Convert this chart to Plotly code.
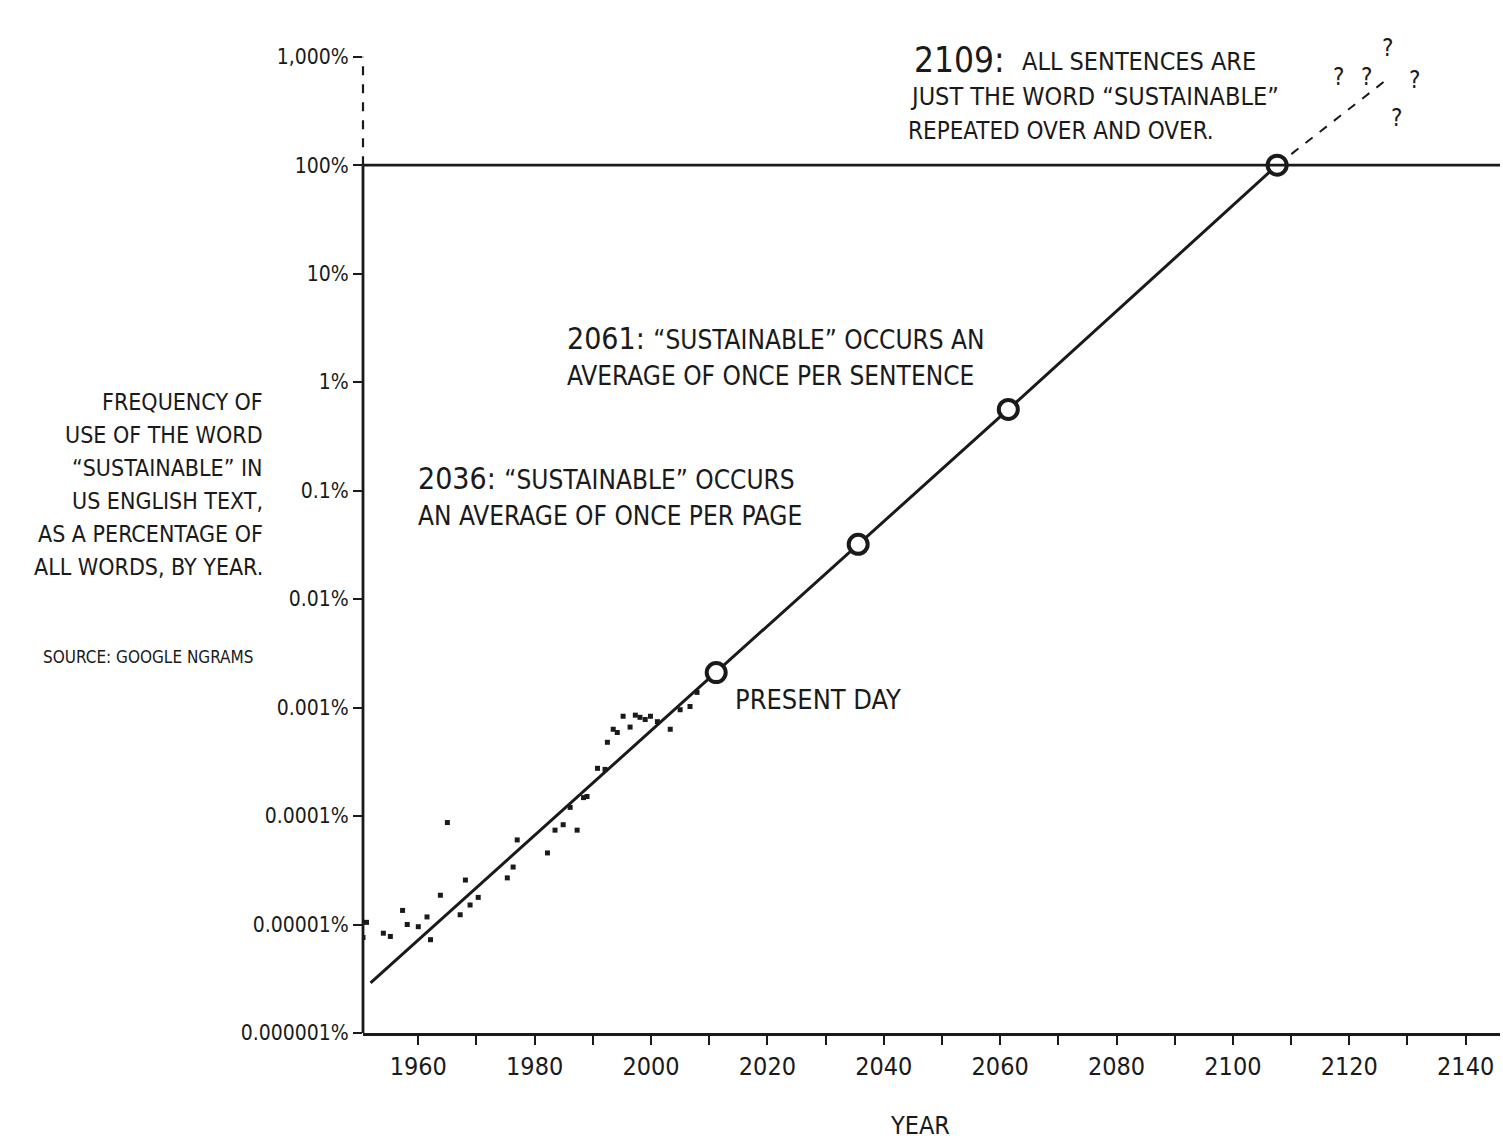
import plotly.graph_objects as go

# ---------------- data ----------------
# Google Ngram style observations: year, frequency in percent
obs_years = [1950.5, 1951.1, 1954.0, 1955.2, 1957.3, 1958.1, 1960.0, 1961.5, 1962.1, 1963.8,
             1965.0, 1967.2, 1968.1, 1968.9, 1970.3, 1975.3, 1976.3, 1977.0, 1982.2, 1983.5,
             1984.9, 1987.3, 1986.1, 1988.4, 1989.0, 1990.8, 1992.1, 1992.5, 1993.5, 1994.2,
             1995.2, 1996.4, 1997.3, 1998.1, 1999.0, 1999.9, 2001.1, 2003.3, 2005.0, 2006.7,
             2007.9]
obs_log10_pct = [-5.12, -4.98, -5.08, -5.11, -4.87, -5.00, -5.02, -4.93, -5.14, -4.73,
                 -4.06, -4.91, -4.59, -4.82, -4.75, -4.57, -4.47, -4.22, -4.34, -4.13,
                 -4.08, -4.13, -3.92, -3.83, -3.82, -3.56, -3.57, -3.32, -3.20, -3.23,
                 -3.08, -3.18, -3.07, -3.09, -3.11, -3.08, -3.13, -3.20, -3.02, -2.99,
                 -2.86]
obs_pct = [10 ** v for v in obs_log10_pct]

# trend line (solid) and its extension (dashed)
trend_years = [1951.8, 2011.2, 2035.6, 2061.4, 2107.6]
trend_pct = [0.0000029, 0.0021, 0.032, 0.56, 100.0]
ext_years = [2107.6, 2127.0]
ext_pct = [100.0, 650.0]

# milestone circles
mile_years = [2011.2, 2035.6, 2061.4, 2107.6]
mile_pct = [0.0021, 0.032, 0.56, 100.0]

# axis ticks
y_tickvals = [0.000001, 0.00001, 0.0001, 0.001, 0.01, 0.1, 1, 10, 100, 1000]
y_ticktext = ["0.000001%", "0.00001%", "0.0001%", "0.001%", "0.01%", "0.1%",
              "1%", "10%", "100%", "1,000%"]
x_tickvals = list(range(1960, 2141, 10))
x_ticktext = [str(v) if v % 20 == 0 else "" for v in x_tickvals]

ylabel_lines = ["FREQUENCY OF", "USE OF THE WORD", "\u201cSUSTAINABLE\u201d IN",
                "US ENGLISH TEXT,", "AS A PERCENTAGE OF", "ALL WORDS, BY YEAR."]

# ---------------- layout helpers ----------------
W, H = 1503, 1147
ML, MR, MT, MB = 363, 3, 35, 114
PW, PH = W - ML - MR, H - MT - MB
FONT = "DejaVu Sans Condensed, Liberation Sans Narrow, DejaVu Sans, sans-serif"
INK = "#1a1a1a"


def px(x):
    return (x - ML) / PW


def py(y):
    return (H - MB - y) / PH


fig = go.Figure()

fig.add_trace(go.Scatter(x=obs_years, y=obs_pct, mode="markers",
                         marker=dict(size=5, color=INK, symbol="square"),
                         showlegend=False))
fig.add_trace(go.Scatter(x=trend_years, y=trend_pct, mode="lines",
                         line=dict(color=INK, width=3), showlegend=False))
fig.add_trace(go.Scatter(x=ext_years, y=ext_pct, mode="lines",
                         line=dict(color=INK, width=2, dash="dash"), showlegend=False))
fig.add_trace(go.Scatter(x=mile_years, y=mile_pct, mode="markers",
                         marker=dict(size=19, color="white", symbol="circle",
                                     line=dict(color=INK, width=4)),
                         showlegend=False))

shapes = [
    dict(type="line", xref="paper", yref="y", x0=0, x1=0,
         y0=y_tickvals[0], y1=y_tickvals[-2], line=dict(color=INK, width=2.8)),
    dict(type="line", xref="paper", yref="y", x0=0, x1=0,
         y0=y_tickvals[-2], y1=y_tickvals[-1], line=dict(color=INK, width=2.2, dash="dash")),
    dict(type="line", xref="paper", yref="y", x0=0, x1=1,
         y0=y_tickvals[-2], y1=y_tickvals[-2], line=dict(color=INK, width=2.8)),
]

ann = []


def text(x, y, s, size, anchor="left", align="left"):
    ann.append(dict(x=px(x), y=py(y), xref="paper", yref="paper", text=s,
                    showarrow=False, xanchor=anchor, yanchor="middle", align=align,
                    font=dict(family=FONT, size=size, color=INK)))


# 2109 annotation
text(912, 60, "2109:", 35)
text(1020, 62, "ALL SENTENCES ARE", 25)
text(908, 97, "JUST THE WORD \u201cSUSTAINABLE\u201d", 25)
text(906, 131, "REPEATED OVER AND OVER.", 24)
# 2061 annotation
text(565, 338, "2061: <span style='font-size:26px'>\u201cSUSTAINABLE\u201d OCCURS AN</span>", 30)
text(565, 376, "AVERAGE OF ONCE PER SENTENCE", 26)
# 2036 annotation
text(416, 478, "2036: <span style='font-size:26px'>\u201cSUSTAINABLE\u201d OCCURS</span>", 30)
text(416, 516, "AN AVERAGE OF ONCE PER PAGE", 26)
# present day
text(733, 699, "PRESENT DAY", 27)
# question marks
for qx, qy in [(1338, 77), (1366, 77), (1387, 48), (1414, 80), (1396, 118)]:
    text(qx, qy, "?", 24, anchor="center")
# y-axis title block
for i, line in enumerate(ylabel_lines):
    text(265, 402 + i * 33, line, 23, anchor="right", align="right")
text(256, 657, "SOURCE: GOOGLE NGRAMS", 17, anchor="right", align="right")
# x-axis title
text(920, 1125, "YEAR", 25, anchor="center")

fig.update_layout(
    width=W, height=H,
    margin=dict(l=ML, r=MR, t=MT, b=MB, pad=0),
    paper_bgcolor="white", plot_bgcolor="white",
    shapes=shapes, annotations=ann,
    xaxis=dict(range=[1950.5, 2145.9], tickvals=x_tickvals, ticktext=x_ticktext,
               showgrid=False, zeroline=False, showline=True, linecolor=INK, linewidth=2.8,
               ticks="outside", ticklen=9, tickwidth=2, tickcolor=INK,
               tickfont=dict(family=FONT, size=25, color=INK)),
    yaxis=dict(type="log", range=[-6, 3.2], tickvals=y_tickvals, ticktext=y_ticktext,
               showgrid=False, zeroline=False, showline=False,
               ticks="outside", ticklen=9, tickwidth=2, tickcolor=INK,
               tickfont=dict(family=FONT, size=21, color=INK)),
)

fig.write_html("out.html", config={"displayModeBar": False},
               post_script="document.body.style.margin='0';")
